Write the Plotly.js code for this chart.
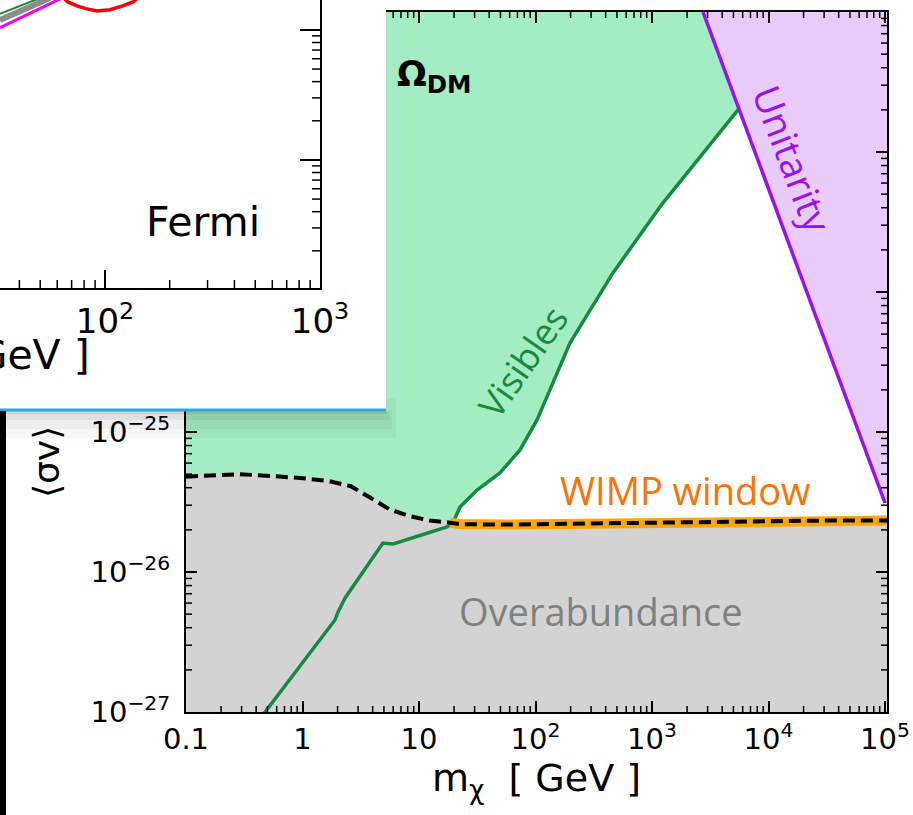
<!DOCTYPE html>
<html>
<head>
<meta charset="utf-8">
<script src="https://cdn.plot.ly/plotly-3.0.1.min.js"></script>
<style>html,body{margin:0;padding:0;background:#fff;}#chart{width:913px;height:815px;}</style>
</head>
<body>
<div id="chart"></div>
<script>
// ---- Main panel data: <sigma v> vs m_chi ----
// Thermal relic cross section (black dashed line)
const relicMass  = [0.1, 0.16, 0.29, 0.53, 0.95, 1.7, 2.6, 3.8, 5.6, 8.4, 12.4, 18.5, 22.5, 50, 110, 300, 800, 2000, 5700, 1e4, 3e4, 1.1e5];
const relicSigma = [4.8e-26, 4.9e-26, 5.0e-26, 4.85e-26, 4.7e-26, 4.45e-26, 4.1e-26, 3.4e-26, 2.8e-26, 2.5e-26, 2.33e-26, 2.25e-26, 2.2e-26, 2.18e-26, 2.2e-26, 2.22e-26, 2.25e-26, 2.28e-26, 2.32e-26, 2.33e-26, 2.33e-26, 2.33e-26];
// "Visibles" exclusion boundary (green line)
const visMass  = [0.43, 0.477, 1.9, 2.02, 2.32, 4.9, 6.0, 17.4, 19.6, 22.5, 31.5, 49.5, 73.6, 103, 133, 198, 462, 1220, 5470];
const visSigma = [8.9e-28, 1e-27, 4.54e-27, 5.18e-27, 6.52e-27, 1.61e-26, 1.585e-26, 2.1e-26, 2.26e-26, 2.91e-26, 3.85e-26, 5.1e-26, 7.44e-26, 1.22e-25, 2.0e-25, 4.33e-25, 1.37e-24, 4.25e-24, 2.0e-23];
// Unitarity bound (purple line)
const unitMass  = [2740, 1e5];
const unitSigma = [1e-22, 3.11e-26];
// WIMP window starts where visibles meet the relic line
const wimpStart = 18.5;
const junctionMass = 19.6;

// ---- Inset (Fermi) data ----
const fermiRedMass  = [63.1, 67.3, 74.1, 82.4, 91.8, 105.5, 121, 135, 142];
const fermiRedSigma = [1.80e-25, 1.64e-25, 1.53e-25, 1.45e-25, 1.40e-25, 1.43e-25, 1.53e-25, 1.64e-25, 1.76e-25];
const fermiMagMass  = [32.5, 63.1];
const fermiMagSigma = [1.04e-25, 1.76e-25];
const fermiGreyMass  = [32.5, 55.5];
const fermiGreySigma = [1.19e-25, 1.76e-25];
const fermiGreenMass  = [32.5, 49.9];
const fermiGreenSigma = [1.33e-25, 1.76e-25];

// ---- Tick labels ----
const xTickVals = [0.1, 1, 10, 100, 1000, 1e4, 1e5];
const xTickText = ['0.1', '1', '10', '10<sup>2</sup>', '10<sup>3</sup>', '10<sup>4</sup>', '10<sup>5</sup>'];
const yTickVals = [1e-27, 1e-26, 1e-25, 1e-24, 1e-23, 1e-22];
const yTickText = ['10<sup>\u221227</sup>', '10<sup>\u221226</sup>', '10<sup>\u221225</sup>', '10<sup>\u221224</sup>', '10<sup>\u221223</sup>', '10<sup>\u221222</sup>'];
const insetXTickVals = [100, 1000];
const insetXTickText = ['10<sup>2</sup>', '10<sup>3</sup>'];
const insetYTickVals = [1e-26, 1e-25];

// axis limits
const xLo = 0.1, xHi = 1e5, yLo = 1e-27, yHi = 1e-22;

function minorLog(d0, d1) {
  const out = [];
  for (let d = d0; d <= d1; d++) for (let k = 2; k <= 9; k++) out.push(k * Math.pow(10, d));
  return out;
}

// polygons built from the data arrays
const relicLeft = relicMass.map((m, i) => [m, relicSigma[i]]).filter(p => p[0] < junctionMass);
const visUpper = visMass.map((m, i) => [m, visSigma[i]]).filter(p => p[0] >= junctionMass);
const greenX = relicLeft.map(p => p[0]).concat(visUpper.map(p => p[0]), [unitMass[0], xLo * 0.5, xLo * 0.5]);
const greenY = relicLeft.map(p => p[1]).concat(visUpper.map(p => p[1]), [unitSigma[0], yHi * 2, relicSigma[0]]);

const greyX = [xLo * 0.5].concat(relicMass, [relicMass[relicMass.length - 1], xLo * 0.5]);
const greyY = [relicSigma[0]].concat(relicSigma, [yLo * 0.1, yLo * 0.1]);

const purpX = [unitMass[0], unitMass[1], xHi * 2, xHi * 2];
const purpY = [unitSigma[0], unitSigma[1], unitSigma[1], unitSigma[0]];

const wimpX = relicMass.filter(m => m >= wimpStart);
const wimpY = relicSigma.filter((s, i) => relicMass[i] >= wimpStart);

const GREEN_FILL = 'rgb(164,236,194)';
const GREEN_LINE = 'rgb(22,138,62)';
const GREY_FILL = 'rgb(211,211,211)';
const PURP_FILL = 'rgb(233,203,250)';
const PURP_LINE = 'rgb(155,16,240)';
const ORANGE = 'rgb(250,165,10)';

const data = [
  {x: greenX, y: greenY, type: 'scatter', mode: 'lines', fill: 'toself', fillcolor: GREEN_FILL, line: {width: 0}, hoverinfo: 'skip'},
  {x: greyX, y: greyY, type: 'scatter', mode: 'lines', fill: 'toself', fillcolor: GREY_FILL, line: {width: 0}, hoverinfo: 'skip'},
  {x: purpX, y: purpY, type: 'scatter', mode: 'lines', fill: 'toself', fillcolor: PURP_FILL, line: {width: 0}, hoverinfo: 'skip'},
  {x: visMass, y: visSigma, type: 'scatter', mode: 'lines', line: {color: GREEN_LINE, width: 3.5}},
  {x: unitMass, y: unitSigma, type: 'scatter', mode: 'lines', line: {color: PURP_LINE, width: 3.5}},
  {x: wimpX, y: wimpY, type: 'scatter', mode: 'lines', line: {color: ORANGE, width: 10}},
  {x: relicMass, y: relicSigma, type: 'scatter', mode: 'lines', line: {color: '#000', width: 4, dash: '12px,6px'}},
  // cover panel (white inset box), registered by an invisible carrier
  {x: relicMass, y: relicSigma, type: 'scatter', mode: 'none', xaxis: 'x2', yaxis: 'y2', hoverinfo: 'skip'},
  // inset Fermi curves
  {x: fermiGreyMass, y: fermiGreySigma, type: 'scatter', mode: 'lines', xaxis: 'x3', yaxis: 'y3', line: {color: 'rgb(140,140,140)', width: 6}},
  {x: fermiGreenMass, y: fermiGreenSigma, type: 'scatter', mode: 'lines', xaxis: 'x3', yaxis: 'y3', line: {color: 'rgb(30,130,60)', width: 2}},
  {x: fermiMagMass, y: fermiMagSigma, type: 'scatter', mode: 'lines', xaxis: 'x3', yaxis: 'y3', line: {color: 'rgb(240,0,240)', width: 3}},
  {x: fermiRedMass, y: fermiRedSigma, type: 'scatter', mode: 'lines', xaxis: 'x3', yaxis: 'y3', line: {color: 'rgb(250,0,0)', width: 3.5}}
];

const W = 913, H = 815;
const px = v => v / W;
const py = v => 1 - v / H;

const mainXRange = [-1, 5.017], mainYRange = [-27, -22];
const insetXRange = [1.512, 3], insetYRange = [-26.985, -24.77];
const mainXDom = [px(186), px(887)], mainYDom = [py(712), py(12)];
const insetXDom = [0, px(320)], insetYDom = [py(288), 1];
const coverRight = 388, coverBottom = 412; // pixel extent of the white inset box

const axisCommon = {showgrid: false, zeroline: false, showline: true, linecolor: '#000', linewidth: 2, ticks: 'inside', tickcolor: '#000', tickwidth: 2, automargin: false};

// ---- minor tick marks, drawn as paper-referenced line shapes ----
const frac = (v, r) => (Math.log10(v) - r[0]) / (r[1] - r[0]);
const minorShapes = [];
function seg(x0p, y0p, x1p, y1p) {
  minorShapes.push({type: 'line', xref: 'paper', yref: 'paper', x0: x0p / W, x1: x1p / W, y0: 1 - y0p / H, y1: 1 - y1p / H, line: {color: '#000', width: 1.5}, layer: 'above'});
}
function addXTicks(vals, range, dom, ydom, len, withTop, leftLimitPx) {
  const bottomPx = (1 - ydom[0]) * H, topPx = (1 - ydom[1]) * H;
  vals.forEach(v => {
    const f = frac(v, range);
    if (f <= 0.002 || f >= 0.998) return;
    const xPx = (dom[0] + f * (dom[1] - dom[0])) * W;
    seg(xPx, bottomPx, xPx, bottomPx - len);
    if (withTop && xPx > leftLimitPx) seg(xPx, topPx, xPx, topPx + len);
  });
}
function addYTicks(vals, range, dom, xdom, len, withLeft, withRight, topLimitPx) {
  const leftPx = xdom[0] * W, rightPx = xdom[1] * W;
  vals.forEach(v => {
    const f = frac(v, range);
    if (f <= 0.002 || f >= 0.998) return;
    const yPx = (1 - (dom[0] + f * (dom[1] - dom[0]))) * H;
    if (withLeft && yPx > topLimitPx) seg(leftPx, yPx, leftPx + len, yPx);
    if (withRight) seg(rightPx, yPx, rightPx - len, yPx);
  });
}
addXTicks(minorLog(-1, 4), mainXRange, mainXDom, mainYDom, 6, true, coverRight);
addYTicks(minorLog(-27, -23), mainYRange, mainYDom, mainXDom, 6, true, true, coverBottom);
addXTicks(minorLog(1, 2), insetXRange, insetXDom, insetYDom, 8, false, 0);
addYTicks(minorLog(-27, -25), insetYRange, insetYDom, insetXDom, 8, false, true, 0);

const layout = {
  width: W, height: H,
  margin: {l: 0, r: 0, t: 0, b: 0, pad: 0},
  paper_bgcolor: '#fff', plot_bgcolor: '#fff',
  showlegend: false,
  font: {family: 'DejaVu Sans', color: '#000'},
  xaxis: Object.assign({}, axisCommon, {
    type: 'log', domain: mainXDom, range: mainXRange, anchor: 'y',
    mirror: 'allticks', ticklen: 11, tickvals: xTickVals, ticktext: xTickText,
    tickfont: {size: 29}, ticklabelstandoff: 0,
    title: {text: 'm<sub>\u03c7</sub>  [ GeV ]', font: {size: 38}, standoff: 8}
  }),
  yaxis: Object.assign({}, axisCommon, {
    type: 'log', domain: mainYDom, range: mainYRange, anchor: 'x',
    mirror: 'allticks', ticklen: 11, tickvals: yTickVals, ticktext: yTickText,
    tickfont: {size: 29}, ticklabelstandoff: 8
  }),
  xaxis2: {domain: [0, px(386)], range: [0, 1], anchor: 'y2', showline: false, showgrid: false, zeroline: false, ticks: '', showticklabels: false, fixedrange: true},
  yaxis2: {domain: [py(410), 1], range: [0, 1], anchor: 'x2', showline: false, showgrid: false, zeroline: false, ticks: '', showticklabels: false, fixedrange: true},
  xaxis3: Object.assign({}, axisCommon, {
    type: 'log', domain: insetXDom, range: insetXRange, anchor: 'y3',
    ticklen: 18, tickvals: insetXTickVals, ticktext: insetXTickText,
    tickfont: {size: 34}, ticklabelstandoff: 2
  }),
  yaxis3: Object.assign({}, axisCommon, {
    type: 'log', domain: insetYDom, range: insetYRange, anchor: 'x3', side: 'right',
    ticklen: 20, tickvals: insetYTickVals, showticklabels: false
  }),
  shapes: [
    // soft drop shadow under the inset box
    {type: 'rect', xref: 'paper', yref: 'paper', x0: px(6), x1: px(396), y0: py(411), y1: py(438), fillcolor: 'rgba(0,0,0,0.03)', line: {width: 0}, layer: 'above'},
    {type: 'rect', xref: 'paper', yref: 'paper', x0: px(6), x1: px(392), y0: py(411), y1: py(429), fillcolor: 'rgba(0,0,0,0.04)', line: {width: 0}, layer: 'above'},
    {type: 'rect', xref: 'paper', yref: 'paper', x0: px(6), x1: px(389), y0: py(411), y1: py(420), fillcolor: 'rgba(0,0,0,0.05)', line: {width: 0}, layer: 'above'},
    {type: 'rect', xref: 'paper', yref: 'paper', x0: px(6), x1: px(387), y0: py(411), y1: py(414), fillcolor: 'rgba(0,0,0,0.06)', line: {width: 0}, layer: 'above'},
    {type: 'rect', xref: 'paper', yref: 'paper', x0: px(386), x1: px(396), y0: py(398), y1: py(411), fillcolor: 'rgba(0,0,0,0.03)', line: {width: 0}, layer: 'above'},
    // blue bottom edge of the inset box
    {type: 'line', xref: 'paper', yref: 'paper', x0: 0, x1: px(386), y0: py(410), y1: py(410), line: {color: 'rgb(41,169,225)', width: 3}, layer: 'above'},
    // black bar at left edge
    {type: 'rect', xref: 'paper', yref: 'paper', x0: 0, x1: px(6), y0: 0, y1: py(411), fillcolor: '#000', line: {width: 0}, layer: 'above'}
  ].concat(minorShapes),
  annotations: [
    {xref: 'paper', yref: 'paper', x: px(434), y: py(76), xanchor: 'center', yanchor: 'middle', text: '<b>\u03a9<sub>DM</sub></b>', showarrow: false, font: {family: 'DejaVu Sans', size: 35, color: '#000'}},
    {xref: 'paper', yref: 'paper', x: px(522), y: py(362), xanchor: 'center', yanchor: 'middle', text: 'Visibles', textangle: -55, showarrow: false, font: {family: 'Open Sans', size: 36, color: GREEN_LINE}},
    {xref: 'paper', yref: 'paper', x: px(793), y: py(159), xanchor: 'center', yanchor: 'middle', text: 'Unitarity', textangle: 69, showarrow: false, font: {family: 'Open Sans', size: 38, color: PURP_LINE}},
    {xref: 'paper', yref: 'paper', x: px(685), y: py(490), xanchor: 'center', yanchor: 'middle', text: 'WIMP window', showarrow: false, font: {family: 'Open Sans', size: 38, color: 'rgb(249,115,6)'}},
    {xref: 'paper', yref: 'paper', x: px(601), y: py(611), xanchor: 'center', yanchor: 'middle', text: 'Overabundance', showarrow: false, font: {family: 'Open Sans', size: 38, color: 'rgb(128,128,128)'}},
    {xref: 'paper', yref: 'paper', x: px(46), y: py(500), xanchor: 'center', yanchor: 'bottom', text: '\u27e8\u03c3v\u27e9', textangle: -90, showarrow: false, font: {family: 'DejaVu Sans', size: 36, color: '#000'}},
    {xref: 'paper', yref: 'paper', x: px(203), y: py(222), xanchor: 'center', yanchor: 'middle', text: 'Fermi', showarrow: false, font: {family: 'DejaVu Sans', size: 41, color: '#000'}},
    {xref: 'paper', yref: 'paper', x: px(92), y: py(358), xanchor: 'right', yanchor: 'middle', text: 'm<sub>\u03c7</sub>  [ GeV ]', showarrow: false, font: {family: 'DejaVu Sans', size: 41, color: '#000'}}
  ]
};

Plotly.newPlot('chart', data, layout, {staticPlot: true, displayModeBar: false});
</script>
</body>
</html>
